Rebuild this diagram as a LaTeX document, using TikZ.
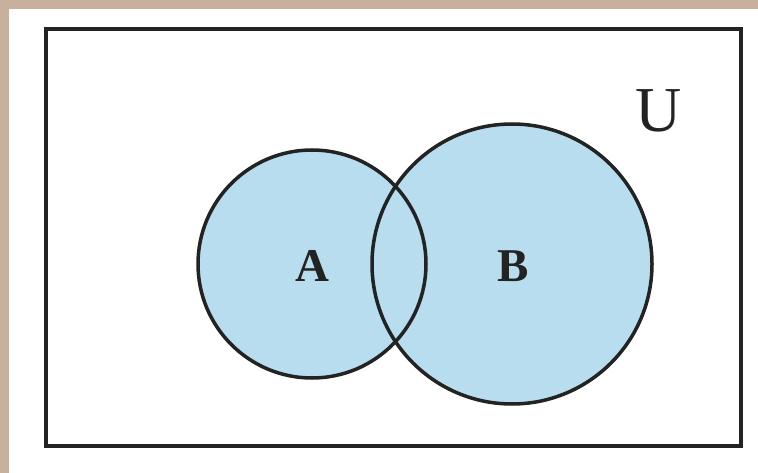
\documentclass[tikz,border=0pt]{standalone}
\usepackage{fontspec}
\setmainfont{Liberation Serif}
\definecolor{tan}{RGB}{201,176,158}
\definecolor{setblue}{RGB}{184,221,239}
\definecolor{ink}{RGB}{35,35,35}
\begin{document}
\begin{tikzpicture}[x=1pt,y=-1pt,
  outline/.style={draw=ink,line width=3.5pt},
  setlabel/.style={font=\fontsize{47}{47}\selectfont\bfseries,text=ink,inner sep=0pt}]
\useasboundingbox (0,0) rectangle (758,473);
\fill[white] (0,0) rectangle (758,473);
\fill[tan] (0,0) rectangle (758,9);
\fill[tan] (0,0) rectangle (9,473);
\node[outline,fill=none,minimum width=695pt,minimum height=417pt,inner sep=0pt] (U) at (393.5,237.5) {};
\coordinate (ca) at (312,264);
\coordinate (cb) at (512,264);
\fill[setblue] (ca) circle (114);
\fill[setblue] (cb) circle (140);
\draw[outline] (ca) circle (114);
\draw[outline] (cb) circle (140);
\node[setlabel] (a) at (312,266) {A};
\node[setlabel] (b) at (513,266) {B};
\node[font=\fontsize{64}{64}\selectfont,text=ink,inner sep=0pt] (u) at (659,111) {U};
\end{tikzpicture}
\end{document}
